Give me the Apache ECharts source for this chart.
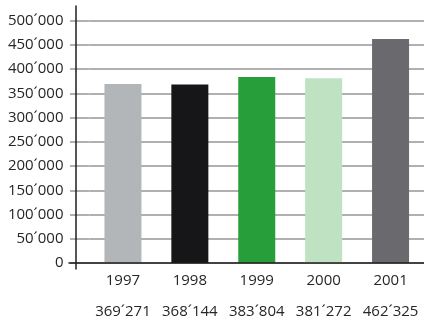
<!DOCTYPE html>
<html>
<head>
<meta charset="utf-8">
<script src="https://cdn.jsdelivr.net/npm/echarts@6/dist/echarts.min.js"></script>
<style>
  html, body { margin: 0; padding: 0; background: #fff; }
  #chart { width: 424px; height: 320px; }
</style>
</head>
<body>
<div id="chart"></div>
<script>
const years = ['1997', '1998', '1999', '2000', '2001'];
const visitors = [369271, 368144, 383804, 381272, 462325];
const barColors = ['#b3b6b9', '#161618', '#289e3a', '#bfe2c3', '#6a696e'];
const yTicks = { min: 0, max: 500000, step: 50000 };

const FONT = '"Open Sans", "Noto Sans", sans-serif';
const TEXT = '#262626';
const GRID_GRAY = '#b0b0b0';
const AXIS_DARK = '#1e1e1e';

// thousands separator written as an acute accent, e.g. 369´271
function fmt(n) {
  return String(n).replace(/\B(?=(\d{3})+(?!\d))/g, '\u00b4');
}

const chart = echarts.init(document.getElementById('chart'), null, { renderer: 'canvas' });

chart.setOption({
  animation: false,
  backgroundColor: '#fff',
  grid: [
    // bars + horizontal gridlines
    { left: 89.5, right: -5.5, top: 20.7, bottom: 57 },
    // vertical axis line (runs a little past the baseline)
    { left: 76, right: 0, top: 6, bottom: 51 },
    // baseline (starts a little left of the vertical axis)
    { left: 69, right: 0, top: 20.7, bottom: 57 }
  ],
  xAxis: [
    {
      gridIndex: 0,
      type: 'category',
      data: years,
      axisLine: { show: false },
      axisTick: { show: false },
      axisLabel: {
        margin: 2,
        interval: 0,
        formatter: (val, idx) => '{y|' + val + '}\n{v|' + fmt(visitors[idx]) + '}',
        rich: {
          y: { fontFamily: FONT, fontSize: 15, color: TEXT, lineHeight: 31 },
          v: { fontFamily: FONT, fontSize: 15, color: TEXT, lineHeight: 31 }
        }
      }
    },
    { gridIndex: 1, type: 'value', show: false, min: 0, max: 1 },
    {
      gridIndex: 2, type: 'value', min: 0, max: 1, z: 5,
      axisLine: { show: true, lineStyle: { color: AXIS_DARK, width: 1.5 } },
      axisTick: { show: false }, axisLabel: { show: false }, splitLine: { show: false }
    }
  ],
  yAxis: [
    {
      gridIndex: 0,
      type: 'value',
      min: yTicks.min,
      max: yTicks.max,
      interval: yTicks.step,
      axisLine: { show: false },
      axisTick: { show: true, length: 19.5, lineStyle: { color: GRID_GRAY, width: 2 } },
      splitLine: { show: true, lineStyle: { color: GRID_GRAY, width: 2 } },
      axisLabel: {
        margin: 26,
        fontFamily: FONT,
        fontSize: 15,
        color: TEXT,
        formatter: v => fmt(v)
      }
    },
    {
      gridIndex: 1, type: 'value', min: 0, max: 1, z: 5,
      axisLine: { show: true, lineStyle: { color: AXIS_DARK, width: 1.5 } },
      axisTick: { show: false }, axisLabel: { show: false }, splitLine: { show: false }
    },
    { gridIndex: 2, type: 'value', show: false, min: 0, max: 1 }
  ],
  series: [{
    type: 'bar',
    xAxisIndex: 0,
    yAxisIndex: 0,
    barWidth: 37,
    data: visitors.map((v, i) => ({ value: v, itemStyle: { color: barColors[i] } }))
  }]
});
</script>
</body>
</html>
